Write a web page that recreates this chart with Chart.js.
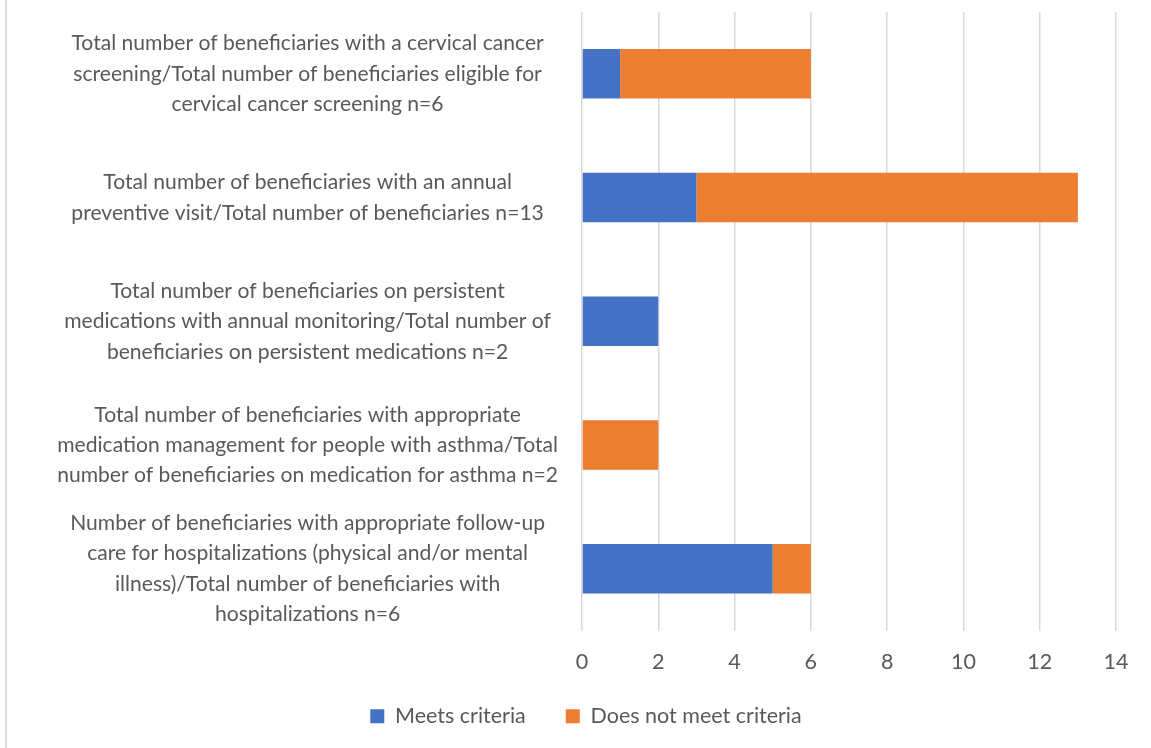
<!DOCTYPE html>
<html>
<head>
<meta charset="utf-8">
<script src="https://cdn.jsdelivr.net/npm/chart.js@4"></script>
<style>
  html, body { margin: 0; padding: 0; background: #fff; }
  #wrap { position: relative; width: 1151px; height: 748px; }
  #edge { position: absolute; left: 5px; top: 0; width: 2px; height: 748px; background: #d9d9d9; }
  canvas { position: absolute; left: 0; top: 0; }
</style>
</head>
<body>
<div id="wrap">
  <div id="edge"></div>
  <canvas id="chart" width="1151" height="748"></canvas>
</div>
<script>
  // 类别标签（多行）
  var categories = [
    ['Total number of beneficiaries with a cervical cancer', 'screening/Total number of beneficiaries eligible for', 'cervical cancer screening n=6'],
    ['Total number of beneficiaries with an annual', 'preventive visit/Total number of beneficiaries n=13'],
    ['Total number of beneficiaries on persistent', 'medications with annual monitoring/Total number of', 'beneficiaries on persistent medications n=2'],
    ['Total number of beneficiaries with appropriate', 'medication management for people with asthma/Total', 'number of beneficiaries on medication for asthma n=2'],
    ['Number of beneficiaries with appropriate follow-up', 'care for hospitalizations (physical and/or mental', 'illness)/Total number of beneficiaries with', 'hospitalizations n=6']
  ];
  var seriesNames = ['Meets criteria', 'Does not meet criteria'];
  var meetsValues = [1, 3, 2, 0, 5];
  var notMeetsValues = [5, 10, 0, 2, 1];
  var xTicks = [0, 2, 4, 6, 8, 10, 12, 14];

  var textColor = '#595959';
  var font = { family: 'Lato, "Open Sans", sans-serif', size: 21.5 };
  var xShrink = 27;

  // 布局微调：图例右移；X轴标签区域恢复高度以免被裁切
  var layoutTweak = {
    id: 'layoutTweak',
    afterLayout: function(chart) {
      chart.legend.left += 28;
      chart.legend.right += 28;
      chart.scales.x.bottom += xShrink;
    }
  };

  new Chart(document.getElementById('chart'), {
    type: 'bar',
    data: {
      labels: categories,
      datasets: [
        { label: seriesNames[0], data: meetsValues, backgroundColor: '#4472C4', barPercentage: 0.4, categoryPercentage: 1 },
        { label: seriesNames[1], data: notMeetsValues, backgroundColor: '#ED7D31', barPercentage: 0.4, categoryPercentage: 1 }
      ]
    },
    plugins: [layoutTweak],
    options: {
      indexAxis: 'y',
      responsive: false,
      animation: false,
      devicePixelRatio: 1,
      layout: { padding: { top: 12, right: 35, bottom: 11, left: 0 } },
      plugins: {
        tooltip: { enabled: false },
        legend: {
          position: 'bottom',
          labels: { color: textColor, font: font, boxWidth: 14, boxHeight: 14, padding: 40 }
        }
      },
      scales: {
        x: {
          stacked: true,
          min: xTicks[0],
          max: xTicks[xTicks.length - 1],
          ticks: { stepSize: 2, color: textColor, font: font, padding: 18 },
          grid: { color: '#d9d9d9', lineWidth: 1.5, drawTicks: false },
          border: { display: false },
          afterFit: function(scale) {
            scale.paddingLeft = 0;
            scale.paddingRight = 0;
            scale.height -= xShrink;
          }
        },
        y: {
          stacked: true,
          afterFit: function(scale) {
            // 固定左侧宽度，并去掉多行标签带来的上下留白
            scale.width = 582;
            scale.paddingTop = 0;
            scale.paddingBottom = 0;
          },
          ticks: { autoSkip: false, color: textColor, font: { family: font.family, size: 21.1, lineHeight: 1.44 }, crossAlign: 'center', padding: 24 },
          grid: { display: false, drawTicks: false },
          border: { display: false }
        }
      }
    }
  });
</script>
</body>
</html>
